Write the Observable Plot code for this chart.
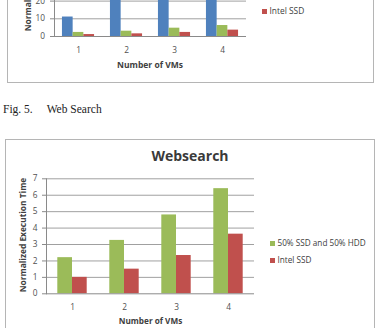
<!DOCTYPE html>
<html><head><meta charset="utf-8">
<script src="https://cdn.jsdelivr.net/npm/d3@7"></script>
<script src="https://cdn.jsdelivr.net/npm/@observablehq/plot@0.6"></script>
<style>
html,body{margin:0;padding:0;background:#fff;}
#page{position:relative;width:378px;height:328px;overflow:hidden;font-family:"Open Sans",sans-serif;background:#fff;}
.box{position:absolute;border:1px solid #b5b5b5;box-sizing:border-box;}
.lab{position:absolute;font-weight:bold;color:#404040;white-space:nowrap;line-height:1;transform:translate(-50%,-50%);}
.rot{transform:translate(-50%,-50%) rotate(-90deg);}
.leg{position:absolute;color:#404040;white-space:nowrap;display:flex;align-items:center;height:10px;line-height:10px;}
.sw{display:inline-block;width:5px;height:5px;margin-right:2.5px;}
.cap{position:absolute;font-family:"Liberation Serif","DejaVu Serif",serif;font-size:11.5px;line-height:1;color:#222;white-space:nowrap;}
svg{position:absolute;left:0;}
</style></head><body><div id="page"></div>
<script>
// ---------- data ----------
const vms = ["1", "2", "3", "4"];
const seriesNames = ["50% SSD and 50% HDD", "Intel SSD"];
const mainMixed = [2.2, 3.25, 4.8, 6.4];
const mainIntel = [1.0, 1.5, 2.33, 3.63];
const mainTicks = [0, 1, 2, 3, 4, 5, 6, 7];
// previous figure (cut off at top of page)
const topFirst = [11, 26, 33, 41];
const topMixed = [2.3, 3.0, 4.7, 6.2];
const topIntel = [1.1, 1.5, 2.3, 3.6];
const topTicks = [0, 10, 20];
const colors = {first: "#4F81BD", mixed: "#9BBB59", intel: "#C0504D"};

const page = document.getElementById("page");
function el(tag, cls, css, text) {
  const e = document.createElement(tag);
  if (cls) e.className = cls;
  Object.assign(e.style, css || {});
  if (text != null) e.textContent = text;
  page.appendChild(e);
  return e;
}
const tickStyle = {fontFamily: "Open Sans", fontSize: "8.3px", color: "#505050", background: "transparent"};
const gridColor = "#a0a0a0", axisColor = "#8a8a8a";
const fmt = d3.format("d");

// ---------- top (cut-off) chart ----------
el("div", "box", {left: "7px", top: "-50px", width: "367px", height: "133px"});
{
  const mL = 54, mR = 132, W = 378;
  const bw = (W - mL - mR) / vms.length, barW = 10.7;
  const i0 = bw / 2 - 1.5 * barW;
  const rows = (arr) => vms.map((v, i) => ({vm: v, val: arr[i]}));
  const svg = Plot.plot({
    width: W, height: 156, marginLeft: mL, marginRight: mR, marginTop: 7.5, marginBottom: 60,
    style: tickStyle,
    x: {domain: vms, padding: 0},
    y: {domain: [0, 50]},
    marks: [
      Plot.ruleY([10, 20, 30, 40, 50], {stroke: gridColor}),
      Plot.barY(rows(topFirst), {x: "vm", y: "val", fill: colors.first, insetLeft: i0, insetRight: bw - i0 - barW}),
      Plot.barY(rows(topMixed), {x: "vm", y: "val", fill: colors.mixed, insetLeft: i0 + barW, insetRight: bw - i0 - 2 * barW}),
      Plot.barY(rows(topIntel), {x: "vm", y: "val", fill: colors.intel, insetLeft: i0 + 2 * barW, insetRight: i0}),
      Plot.ruleY([0], {stroke: axisColor}),
      Plot.frame({anchor: "left", stroke: axisColor}),
      Plot.axisY({ticks: topTicks, tickFormat: fmt, tickSize: 4, tickPadding: 5.5, label: null, stroke: axisColor, fill: "#505050"}),
      Plot.axisX({tickSize: 0, tickPadding: 11, label: null, fill: "#505050"})
    ]
  });
  svg.style.top = "-60px";
  page.appendChild(svg);
}
el("div", "lab", {left: "150px", top: "65px", fontSize: "8.5px"}, "Number of VMs");
el("div", "lab rot", {left: "27.5px", top: "-26px", fontSize: "8.4px"}, "Normalized Execution Time");
{
  const lg = el("div", "leg", {left: "262px", top: "6px", fontSize: "8.4px"});
  const s = document.createElement("span"); s.className = "sw"; s.style.background = colors.intel; lg.appendChild(s);
  lg.appendChild(document.createTextNode(seriesNames[1]));
}

// ---------- caption ----------
el("div", "cap", {left: "3px", top: "104.4px"}, "Fig. 5.");
el("div", "cap", {left: "46.7px", top: "104.4px"}, "Web Search");

// ---------- main chart ----------
el("div", "box", {left: "5px", top: "138.5px", width: "370px", height: "260px"});
{
  const mL = 46, mR = 124, W = 378;
  const bw = (W - mL - mR) / vms.length, barW = 14.7;
  const rows = (arr) => vms.map((v, i) => ({vm: v, val: arr[i]}));
  const svg = Plot.plot({
    width: W, height: 328, marginLeft: mL, marginRight: mR, marginTop: 178.3, marginBottom: 34.7,
    style: tickStyle,
    x: {domain: vms, padding: 0},
    y: {domain: [0, 7]},
    marks: [
      Plot.ruleY(mainTicks.slice(1), {stroke: gridColor}),
      Plot.barY(rows(mainMixed), {x: "vm", y: "val", fill: colors.mixed, insetLeft: bw / 2 - barW, insetRight: bw / 2}),
      Plot.barY(rows(mainIntel), {x: "vm", y: "val", fill: colors.intel, insetLeft: bw / 2, insetRight: bw / 2 - barW}),
      Plot.ruleY([0], {stroke: axisColor}),
      Plot.frame({anchor: "left", stroke: axisColor}),
      Plot.axisY({ticks: mainTicks, tickFormat: fmt, tickSize: 4, tickPadding: 5, label: null, stroke: axisColor, fill: "#505050"}),
      Plot.axisX({tickSize: 0, tickPadding: 10, label: null, fill: "#505050"})
    ]
  });
  svg.style.top = "0px";
  page.appendChild(svg);
}
el("div", "lab", {left: "190px", top: "156px", fontSize: "14px", color: "#3a3a3a"}, "Websearch");
el("div", "lab", {left: "150.5px", top: "321px", fontSize: "8.2px"}, "Number of VMs");
el("div", "lab rot", {left: "23px", top: "235px", fontSize: "8.4px"}, "Normalized Execution Time");
[[seriesNames[0], colors.mixed, 243.3], [seriesNames[1], colors.intel, 260]].forEach(([name, c, cy]) => {
  const lg = el("div", "leg", {left: "270px", top: (cy - 5) + "px", fontSize: "8.2px"});
  const s = document.createElement("span"); s.className = "sw"; s.style.background = c; lg.appendChild(s);
  lg.appendChild(document.createTextNode(name));
});
</script></body></html>
